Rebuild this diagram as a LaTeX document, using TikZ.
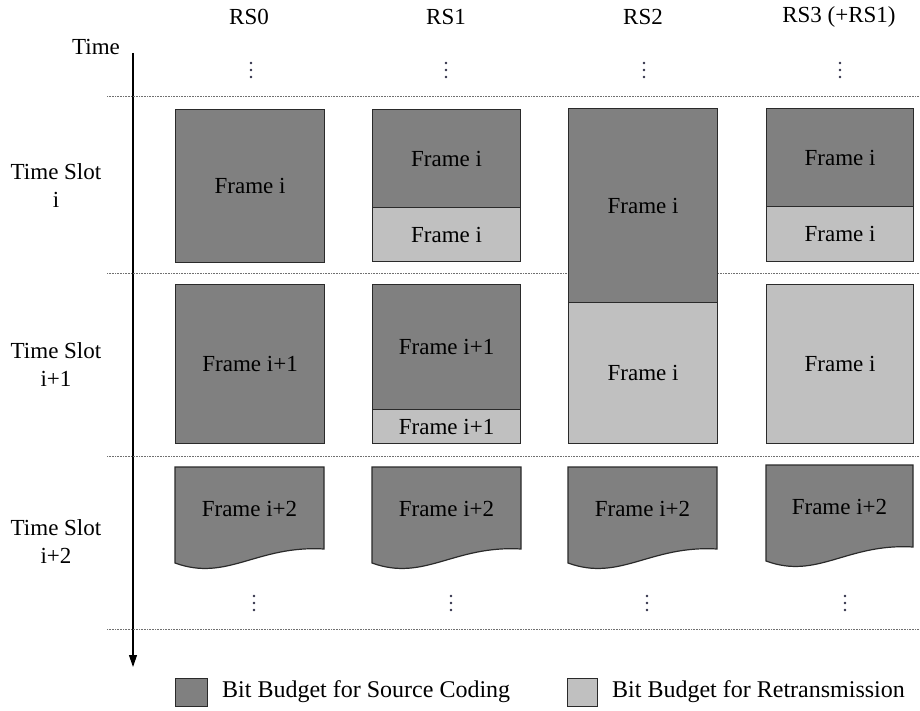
\documentclass[tikz,border=0pt]{standalone}
\usepackage{fontspec}
\setmainfont{Liberation Serif}
\usetikzlibrary{arrows.meta}
\definecolor{darkfill}{HTML}{808080}
\definecolor{lightfill}{HTML}{C0C0C0}
\definecolor{edgecol}{HTML}{2A2A2A}
\definecolor{gridcol}{HTML}{707070}
\definecolor{dotcol}{HTML}{303048}
\newcommand\threedots[2]{%
  \foreach \dy in {-7,0,7} {\fill[dotcol] (#1,#2+\dy) circle (1.4);}}
\begin{document}
\begin{tikzpicture}[x=1pt,y=-1pt,
  every node/.style={font=\fontsize{23}{28}\selectfont, text=black},
  darkbox/.style={draw=edgecol, line width=1.2pt, fill=darkfill, inner sep=0pt, anchor=north west},
  lightbox/.style={draw=edgecol, line width=1.2pt, fill=lightfill, inner sep=0pt, anchor=north west},
  wavebox/.style={draw=edgecol, line width=1.2pt, fill=darkfill},
  gridline/.style={draw=gridcol, line width=1pt, dash pattern=on 1pt off 0.6pt},
  lbl/.style={align=center, inner sep=0pt}
]
\useasboundingbox (0,0) rectangle (920,711);

% column headers
\node[lbl] (h0) at (249,17) {RS0};
\node[lbl] (h1) at (446,17) {RS1};
\node[lbl] (h2) at (643,17) {RS2};
\node[lbl] (h3) at (839,17) {RS3 (+RS1)};

% time axis
\node[lbl] (timelbl) at (96,47) {Time};
\coordinate (axtop) at (133,53);
\coordinate (axbot) at (133,667);
\draw[line width=1.1pt, -{Triangle[width=8pt,length=12pt]}] (axtop) -- (axbot);

% row separators
\foreach \yy/\nm in {97/a,273/b,456/c,629/d} {
  \coordinate (gl\nm) at (107,\yy);
  \coordinate (gr\nm) at (920,\yy);
  \draw[gridline] (gl\nm) -- (gr\nm);
}

% row labels
\node[lbl] (slot0) at (56,186) {Time Slot\\i};
\node[lbl] (slot1) at (56,365) {Time Slot\\i+1};
\node[lbl] (slot2) at (56,542) {Time Slot\\i+2};

% dots
\threedots{251}{70}
\threedots{446}{70}
\threedots{644}{70}
\threedots{840}{70}
\threedots{254}{603}
\threedots{451}{603}
\threedots{647}{603}
\threedots{845}{603}

% ---- Time slot i
\node[darkbox, minimum width=149pt, minimum height=153pt] (a0) at (175,109) {Frame i};
\node[darkbox, minimum width=148pt, minimum height=98pt] (a1s) at (372,109) {Frame i};
\node[lightbox, minimum width=148pt, minimum height=54pt] (a1r) at (372,207) {Frame i};
\node[darkbox, minimum width=149pt, minimum height=194pt] (a2s) at (568,108) {Frame i};
\node[darkbox, minimum width=147pt, minimum height=98pt] (a3s) at (766,108) {Frame i};
\node[lightbox, minimum width=147pt, minimum height=55pt] (a3r) at (766,206) {Frame i};

% ---- Time slot i+1
\node[darkbox, minimum width=149pt, minimum height=159pt] (b0) at (175,284) {Frame i+1};
\node[darkbox, minimum width=148pt, minimum height=125pt] (b1s) at (372,284) {Frame i+1};
\node[lightbox, minimum width=148pt, minimum height=34pt] (b1r) at (372,409) {Frame i+1};
\node[lightbox, minimum width=149pt, minimum height=141pt] (b2r) at (568,302) {Frame i};
\node[lightbox, minimum width=147pt, minimum height=159pt] (b3r) at (766,284) {Frame i};

% ---- Time slot i+2 (document shapes)
\foreach \xl/\xr/\yt/\nm in {175/324/467/c0, 372/521/467/c1, 568/717/467/c2, 766/913/465/c3} {
  \pgfmathsetmacro\ww{\xr-\xl}
  \draw[wavebox] (\xl,\yt) -- (\xr,\yt) -- (\xr,\yt+82)
    .. controls (\xl+0.55*\ww,\yt+78) and (\xl+0.35*\ww,\yt+115) .. (\xl,\yt+96) -- cycle;
  \node[lbl] (\nm) at ({(\xl+\xr)/2},\yt+42) {Frame i+2};
}

% legend
\node[darkbox, minimum width=32pt, minimum height=28pt] (legs) at (175,678) {};
\node[lbl, anchor=west, font=\fontsize{24}{28}\selectfont] (legstxt) at (222,692) {Bit Budget for Source Coding};
\node[lightbox, minimum width=30pt, minimum height=28pt] (legr) at (567,678) {};
\node[lbl, anchor=west, font=\fontsize{24}{28}\selectfont] (legrtxt) at (612,692) {Bit Budget for Retransmission};
\end{tikzpicture}
\end{document}
